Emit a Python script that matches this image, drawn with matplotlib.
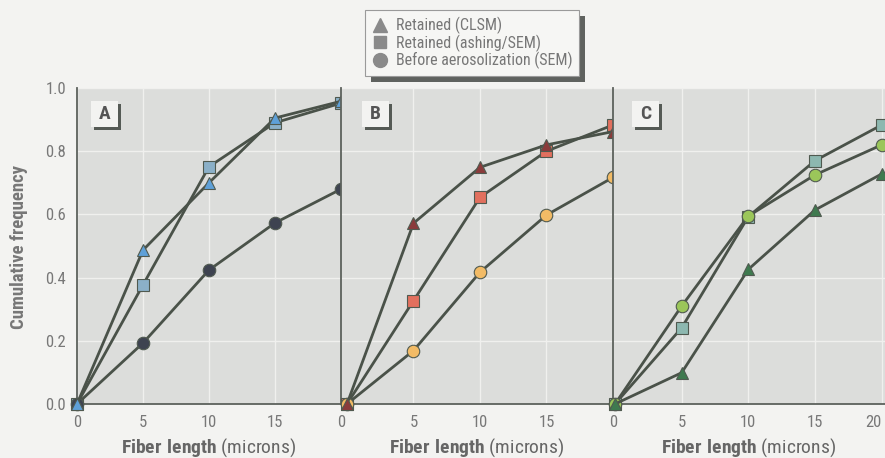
import matplotlib
matplotlib.use("Agg")
import matplotlib.pyplot as plt
from matplotlib.lines import Line2D
from matplotlib.patches import Rectangle
from matplotlib.transforms import blended_transform_factory

plt.rcParams["font.family"] = ["Roboto Condensed", "DejaVu Sans"]
plt.rcParams["mathtext.fontset"] = "custom"
plt.rcParams["mathtext.bf"] = "Roboto Condensed:bold"
plt.rcParams["mathtext.rm"] = "Roboto Condensed"

# fiber length (microns)
lengths = [0, 5, 10, 15, 20]

# panel A
a_clsm = [0.0, 0.487, 0.70, 0.905, 0.958]
a_ash = [0.0, 0.377, 0.751, 0.89, 0.952]
a_before = [0.0, 0.193, 0.424, 0.573, 0.68]
# panel B
b_clsm = [0.0, 0.572, 0.749, 0.82, 0.862]
b_ash = [0.0, 0.327, 0.654, 0.80, 0.883]
b_before = [0.0, 0.169, 0.417, 0.598, 0.717]
# panel C
c_clsm = [0.0, 0.099, 0.426, 0.614, 0.728]
c_ash = [0.0, 0.241, 0.593, 0.77, 0.883]
c_before = [0.0, 0.31, 0.595, 0.725, 0.82]

panel_names = ["A", "B", "C"]
series_labels = ["Retained (CLSM)", "Retained (ashing/SEM)", "Before aerosolization (SEM)"]

panels = [
    (a_clsm, a_ash, a_before),
    (b_clsm, b_ash, b_before),
    (c_clsm, c_ash, c_before),
]
colors = [
    ("#5ea0d8", "#8bb0c8", "#3e4350"),
    ("#8a3b3b", "#e2705e", "#f2bb66"),
    ("#3f7a4f", "#8db8b0", "#9bc65a"),
]
markers = ["^", "s", "o"]
msizes = [8.5, 8, 9]
draw_order = [1, 2, 0]  # squares, circles, then triangles on top

W, H = 885, 458
fig = plt.figure(figsize=(W / 100, H / 100), dpi=100, facecolor="#f3f3f1")

# axes pixel extents (left, right) and x limits
boxes = [(77, 341, (0, 20)), (341, 613, (-0.45, 20)), (613, 885, (-0.15, 20.25))]
bottom_px, top_px = 404, 88
ticksets = [
    ([0, 5, 10, 15, 20], ["0", "5", "10", "15", "0"]),
    ([5, 10, 15, 20], ["5", "10", "15", "0"]),
    ([5, 10, 15, 20], ["5", "10", "15", "20"]),
]
line_col = "#4a5249"
tick_col = "#787878"

for i, (l, r, xl) in enumerate(boxes):
    ax = fig.add_axes([l / W, 1 - bottom_px / H, (r - l) / W, (bottom_px - top_px) / H])
    ax.set_facecolor("#dcdddb")
    ax.set_xlim(*xl)
    ax.set_ylim(0, 1.0)
    for s in ["top", "right"]:
        ax.spines[s].set_visible(False)
    for s in ["left", "bottom"]:
        ax.spines[s].set_color("#5c615c")
        ax.spines[s].set_linewidth(1.3)
    ax.set_xticks(ticksets[i][0])
    ax.set_xticklabels(ticksets[i][1])
    ax.set_yticks([0, 0.2, 0.4, 0.6, 0.8, 1.0])
    ax.set_yticklabels(["0.0", "0.2", "0.4", "0.6", "0.8", "1.0"])
    ax.grid(True, color="#f0f0ee", lw=1)
    ax.tick_params(axis="both", length=0, labelsize=12, labelcolor=tick_col, pad=8)
    if i > 0:
        ax.tick_params(axis="y", labelleft=False)
    if i == 2:
        # last "20" sits at the right edge of the figure
        ax.get_xticklabels()[-1].set_horizontalalignment("right")
    ax.set_axisbelow(True)

    for k, j in enumerate(draw_order):
        ys = panels[i][j]
        ax.plot(lengths, ys, color=line_col, lw=2, marker=markers[j], ms=msizes[j],
                mfc=colors[i][j], mec="#505a50", mew=0.8, clip_on=False, zorder=3 + k * 0.1)

    # x label
    ax.text(0.5, 1 - 453 / H, r"$\bf{Fiber\ length}$ (microns)",
            transform=blended_transform_factory(ax.transAxes, fig.transFigure),
            ha="center", va="baseline", fontsize=14, color="#666666")

    # panel label box with L shadow
    wpx = r - l
    hpx = bottom_px - top_px
    cx = [104, 375, 645][i]
    bx0 = (cx - 13 - l) / wpx
    by0 = (404 - 127) / hpx
    bw = 27 / wpx
    bh = 26 / hpx
    ax.add_patch(Rectangle((bx0 + 3 / wpx, by0 - 3 / hpx), bw, bh, transform=ax.transAxes,
                           fc="#555a55", ec="none", zorder=5))
    ax.add_patch(Rectangle((bx0, by0), bw, bh, transform=ax.transAxes,
                           fc="#f3f3f1", ec="none", zorder=6))
    ax.text(bx0 + bw / 2, by0 + bh / 2, panel_names[i], transform=ax.transAxes,
            ha="center", va="center", fontsize=14, fontweight="bold", color="#555555", zorder=7)

fig.text(19 / W, 1 - 247 / H, "Cumulative frequency", rotation=90, ha="center", va="center",
         fontsize=13.5, fontweight="bold", color="#777777")

handles = [Line2D([], [], ls="none", marker=m, ms=ms, mfc="#8a8a8a", mec="#8a8a8a")
           for m, ms in zip(markers, [10, 9, 10])]
leg = fig.legend(handles, series_labels, loc="upper center", bbox_to_anchor=(472 / W, 1 - 10 / H),
                 fontsize=11.5, frameon=True, fancybox=False, framealpha=1, labelspacing=0.0,
                 handletextpad=0.5, borderpad=0.45, handlelength=1.0, borderaxespad=0)
for t in leg.get_texts():
    t.set_color("#777777")
leg.get_frame().set_facecolor("#f6f6f4")
leg.get_frame().set_edgecolor("#9a9a9a")
leg.get_frame().set_linewidth(0.8)

# drop shadow of the legend box
fig.canvas.draw()
bb = leg.get_frame().get_window_extent()
fig.patches.append(Rectangle((bb.x0 + 6, bb.y0 - 6), bb.width, bb.height, transform=None,
                             fc="#5f625f", ec="none", zorder=0.5))
leg.set_zorder(2)

fig.savefig("out.png", dpi=100, facecolor=fig.get_facecolor())
